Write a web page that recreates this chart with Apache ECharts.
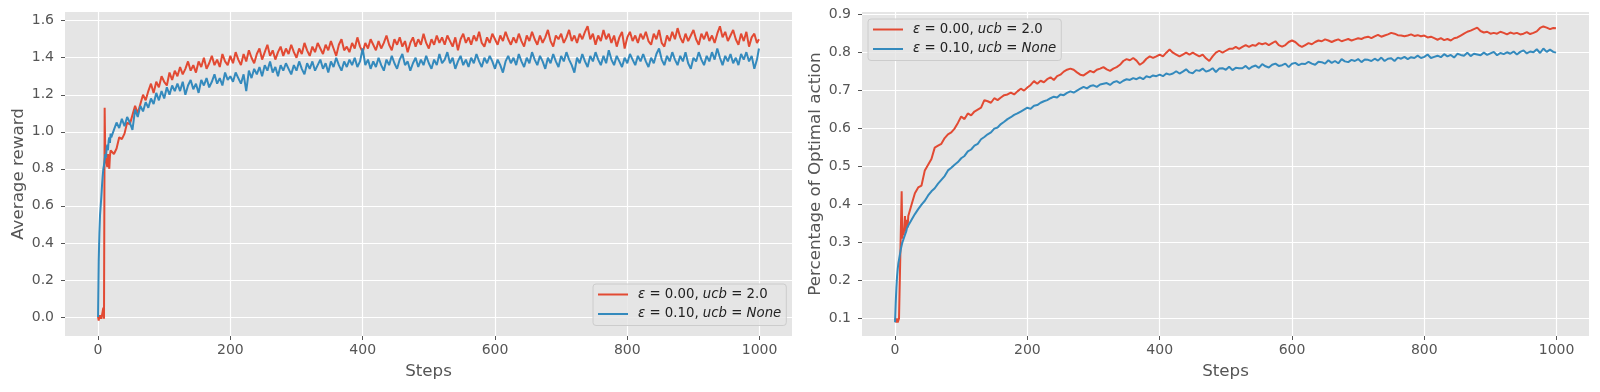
<!DOCTYPE html>
<html><head><meta charset="utf-8">
<script src="https://cdn.jsdelivr.net/npm/echarts@6/dist/echarts.min.js"></script>
<style>html,body{margin:0;padding:0;background:#fff}#c{width:1600px;height:392px}</style>
</head><body><div id="c"></div>
<script>
// ---- left panel: steps sampled every 4 after step 20 ----
const stepsReward = [
0,1,2,3,4,5,6,7,8,9,10,11,12,13,14,15,16,17,18,19,20,
24,28,32,36,40,44,48,52,56,60,64,68,72,76,80,84,88,92,96,100,104,108,112,116,120,
124,128,132,136,140,144,148,152,156,160,164,168,172,176,180,184,188,192,196,200,204,208,212,216,220,
224,228,232,236,240,244,248,252,256,260,264,268,272,276,280,284,288,292,296,300,304,308,312,316,320,
324,328,332,336,340,344,348,352,356,360,364,368,372,376,380,384,388,392,396,400,404,408,412,416,420,
424,428,432,436,440,444,448,452,456,460,464,468,472,476,480,484,488,492,496,500,504,508,512,516,520,
524,528,532,536,540,544,548,552,556,560,564,568,572,576,580,584,588,592,596,600,604,608,612,616,620,
624,628,632,636,640,644,648,652,656,660,664,668,672,676,680,684,688,692,696,700,704,708,712,716,720,
724,728,732,736,740,744,748,752,756,760,764,768,772,776,780,784,788,792,796,800,804,808,812,816,820,
824,828,832,836,840,844,848,852,856,860,864,868,872,876,880,884,888,892,896,900,904,908,912,916,920,
924,928,932,936,940,944,948,952,956,960,964,968,972,976,980,984,988,992,996,
999];

const rewardUcb = [
0.00,-0.02,0.01,-0.01,0.01,-0.01,-0.02,0.03,0.05,-0.01,1.13,0.84,0.86,0.83,0.81,0.88,0.85,0.80,0.87,0.90,0.89,
0.88,0.91,0.97,0.96,0.99,1.05,1.04,1.09,1.14,1.10,1.15,1.20,1.17,1.22,1.26,1.21,1.27,1.24,1.30,1.27,1.25,1.32,1.28,1.33,1.30,
1.35,1.31,1.34,1.38,1.33,1.36,1.32,1.38,1.35,1.40,1.34,1.37,1.41,1.36,1.39,1.35,1.42,1.38,1.36,1.41,1.37,1.43,1.39,1.36,1.42,
1.38,1.44,1.40,1.37,1.42,1.45,1.39,1.43,1.47,1.41,1.44,1.39,1.43,1.46,1.41,1.45,1.42,1.47,1.43,1.40,1.45,1.42,1.48,1.44,1.41,
1.46,1.43,1.48,1.45,1.42,1.47,1.44,1.49,1.45,1.41,1.47,1.50,1.44,1.46,1.43,1.48,1.45,1.51,1.46,1.43,1.48,1.45,1.50,1.47,1.44,
1.49,1.45,1.48,1.52,1.47,1.44,1.50,1.47,1.51,1.46,1.49,1.43,1.48,1.51,1.46,1.50,1.47,1.53,1.48,1.45,1.50,1.47,1.52,1.48,1.51,
1.47,1.52,1.49,1.46,1.51,1.44,1.50,1.53,1.48,1.51,1.47,1.52,1.49,1.54,1.48,1.46,1.51,1.48,1.53,1.50,1.47,1.52,1.49,1.54,1.50,
1.47,1.51,1.48,1.53,1.49,1.46,1.52,1.49,1.54,1.50,1.47,1.52,1.48,1.51,1.55,1.49,1.46,1.52,1.50,1.53,1.48,1.51,1.55,1.49,1.52,
1.48,1.53,1.50,1.54,1.57,1.50,1.53,1.47,1.52,1.49,1.55,1.50,1.53,1.48,1.52,1.46,1.51,1.54,1.45,1.51,1.54,1.49,1.52,1.48,1.53,
1.50,1.54,1.49,1.47,1.53,1.50,1.55,1.48,1.46,1.52,1.49,1.54,1.50,1.56,1.51,1.48,1.53,1.49,1.52,1.55,1.50,1.47,1.53,1.50,1.54,
1.49,1.52,1.48,1.53,1.57,1.51,1.54,1.49,1.52,1.55,1.50,1.47,1.53,1.49,1.54,1.46,1.51,1.53,1.48,
1.50];

const rewardEps = [
0.00,0.30,0.45,0.55,0.60,0.65,0.71,0.76,0.80,0.82,0.85,0.88,0.86,0.91,0.93,0.90,0.95,0.97,0.94,0.99,0.97,
1.01,1.05,1.02,1.07,1.03,1.08,1.05,1.01,1.12,1.08,1.14,1.11,1.16,1.13,1.18,1.15,1.21,1.17,1.22,1.18,1.24,1.20,1.25,1.22,1.26,
1.22,1.27,1.20,1.25,1.28,1.23,1.26,1.21,1.28,1.25,1.29,1.24,1.27,1.31,1.26,1.29,1.25,1.32,1.28,1.30,1.27,1.32,1.29,1.26,1.31,
1.22,1.33,1.29,1.34,1.31,1.35,1.30,1.36,1.33,1.38,1.32,1.35,1.30,1.36,1.33,1.37,1.34,1.31,1.36,1.33,1.38,1.34,1.31,1.37,1.34,
1.38,1.33,1.36,1.39,1.34,1.37,1.32,1.38,1.35,1.40,1.36,1.33,1.38,1.35,1.39,1.36,1.40,1.35,1.38,1.45,1.36,1.39,1.34,1.38,1.35,
1.40,1.36,1.33,1.39,1.36,1.41,1.37,1.34,1.39,1.42,1.36,1.38,1.33,1.37,1.40,1.35,1.39,1.36,1.41,1.37,1.34,1.39,1.36,1.42,1.37,
1.39,1.43,1.37,1.40,1.34,1.38,1.41,1.36,1.39,1.35,1.40,1.37,1.42,1.38,1.35,1.40,1.37,1.41,1.38,1.34,1.39,1.36,1.32,1.38,1.41,
1.37,1.40,1.36,1.42,1.38,1.35,1.40,1.37,1.43,1.39,1.36,1.41,1.38,1.34,1.40,1.37,1.42,1.38,1.35,1.41,1.38,1.43,1.39,1.36,1.32,
1.40,1.37,1.42,1.38,1.35,1.41,1.38,1.43,1.39,1.36,1.41,1.37,1.44,1.39,1.36,1.41,1.38,1.35,1.40,1.37,1.42,1.39,1.36,1.41,1.38,
1.42,1.38,1.35,1.40,1.37,1.42,1.45,1.39,1.36,1.41,1.38,1.43,1.39,1.36,1.41,1.38,1.43,1.37,1.34,1.40,1.38,1.43,1.39,1.36,1.41,
1.38,1.43,1.39,1.45,1.40,1.36,1.41,1.38,1.42,1.37,1.40,1.36,1.42,1.39,1.43,1.38,1.41,1.34,1.39,
1.45];

// ---- right panel: steps sampled every 5 after step 20 ----
const stepsOptimal = [
0,1,2,3,4,5,6,7,8,9,10,11,12,13,14,15,16,17,18,19,20,
25,30,35,40,45,50,55,60,65,70,75,80,85,90,95,100,105,110,115,120,
125,130,135,140,145,150,155,160,165,170,175,180,185,190,195,200,205,210,215,220,
225,230,235,240,245,250,255,260,265,270,275,280,285,290,295,300,305,310,315,320,
325,330,335,340,345,350,355,360,365,370,375,380,385,390,395,400,405,410,415,420,
425,430,435,440,445,450,455,460,465,470,475,480,485,490,495,500,505,510,515,520,
525,530,535,540,545,550,555,560,565,570,575,580,585,590,595,600,605,610,615,620,
625,630,635,640,645,650,655,660,665,670,675,680,685,690,695,700,705,710,715,720,
725,730,735,740,745,750,755,760,765,770,775,780,785,790,795,800,805,810,815,820,
825,830,835,840,845,850,855,860,865,870,875,880,885,890,895,900,905,910,915,920,
925,930,935,940,945,950,955,960,965,970,975,980,985,990,995,
999];

const optimalUcb = [
0.100,0.095,0.090,0.100,0.090,0.095,0.100,0.100,0.105,0.100,0.435,0.310,0.330,0.320,0.340,0.370,0.330,0.350,0.360,0.340,0.370,
0.400,0.430,0.445,0.450,0.490,0.505,0.520,0.550,0.555,0.560,0.575,0.585,0.590,0.600,0.615,0.632,0.625,0.640,0.635,0.645,
0.650,0.655,0.675,0.672,0.668,0.680,0.675,0.682,0.688,0.690,0.695,0.690,0.698,0.705,0.700,0.708,0.715,0.725,0.718,0.726,
0.722,0.730,0.735,0.728,0.738,0.742,0.750,0.755,0.758,0.755,0.748,0.742,0.740,0.746,0.752,0.748,0.755,0.758,0.762,0.756,
0.752,0.758,0.762,0.768,0.778,0.783,0.780,0.786,0.779,0.768,0.774,0.784,0.790,0.786,0.790,0.795,0.790,0.800,0.808,0.800,
0.795,0.790,0.795,0.800,0.795,0.800,0.795,0.790,0.795,0.785,0.778,0.790,0.800,0.805,0.800,0.805,0.810,0.810,0.815,0.810,
0.815,0.820,0.815,0.820,0.818,0.825,0.822,0.825,0.820,0.825,0.830,0.820,0.816,0.820,0.828,0.832,0.828,0.820,0.815,0.820,
0.825,0.822,0.828,0.832,0.830,0.835,0.832,0.828,0.832,0.835,0.830,0.833,0.836,0.832,0.835,0.838,0.836,0.840,0.842,0.838,
0.843,0.847,0.842,0.845,0.848,0.852,0.850,0.846,0.845,0.843,0.845,0.848,0.844,0.846,0.843,0.845,0.840,0.842,0.838,0.834,
0.838,0.833,0.836,0.832,0.838,0.840,0.845,0.850,0.855,0.858,0.862,0.866,0.857,0.853,0.855,0.850,0.852,0.850,0.855,0.852,
0.848,0.853,0.850,0.852,0.848,0.850,0.854,0.849,0.852,0.856,0.865,0.869,0.866,0.862,0.865,
0.864];

const optimalEps = [
0.090,0.140,0.180,0.210,0.230,0.245,0.255,0.265,0.275,0.285,0.290,0.300,0.305,0.310,0.315,0.320,0.325,0.330,0.338,0.340,0.345,
0.360,0.375,0.388,0.400,0.410,0.424,0.435,0.443,0.455,0.465,0.475,0.490,0.497,0.505,0.512,0.522,0.528,0.540,0.545,0.555,
0.560,0.572,0.578,0.585,0.590,0.600,0.603,0.612,0.618,0.625,0.630,0.636,0.640,0.645,0.650,0.655,0.652,0.660,0.662,0.668,
0.672,0.675,0.680,0.684,0.682,0.690,0.688,0.694,0.698,0.695,0.700,0.705,0.710,0.706,0.712,0.714,0.710,0.716,0.718,0.720,
0.715,0.722,0.725,0.720,0.726,0.730,0.728,0.733,0.730,0.735,0.730,0.738,0.735,0.740,0.738,0.742,0.738,0.745,0.742,0.745,
0.751,0.745,0.750,0.756,0.748,0.746,0.754,0.752,0.758,0.750,0.753,0.759,0.749,0.758,0.759,0.755,0.763,0.754,0.760,0.759,
0.759,0.765,0.757,0.763,0.766,0.760,0.770,0.764,0.761,0.768,0.771,0.765,0.767,0.771,0.762,0.771,0.773,0.767,0.771,0.770,
0.776,0.771,0.768,0.776,0.775,0.771,0.780,0.773,0.778,0.772,0.783,0.777,0.775,0.781,0.778,0.783,0.775,0.782,0.781,0.778,
0.784,0.779,0.787,0.778,0.784,0.785,0.778,0.787,0.784,0.789,0.783,0.788,0.786,0.792,0.786,0.789,0.795,0.786,0.789,0.792,
0.788,0.796,0.790,0.794,0.787,0.797,0.794,0.792,0.800,0.791,0.797,0.795,0.793,0.800,0.794,0.798,0.802,0.793,0.799,0.796,
0.801,0.797,0.803,0.795,0.802,0.806,0.798,0.803,0.801,0.809,0.799,0.811,0.802,0.808,0.802,
0.800];

const xTicks = [0,200,400,600,800,1000];
const rewardTicks = [0.0,0.2,0.4,0.6,0.8,1.0,1.2,1.4,1.6];
const optimalTicks = [0.1,0.2,0.3,0.4,0.5,0.6,0.7,0.8,0.9];
const seriesNames = ['ε = 0.00, ucb = 2.0', 'ε = 0.10, ucb = None'];
const legendRich = ['{p|}{i|ε} = 0.00, {i|ucb} = 2.0', '{p|}{i|ε} = 0.10, {i|ucb} = {i|None}'];
const yNames = ['Average reward', 'Percentage of Optimal action'];

const F = 'DejaVu Sans';
const RED = '#E24A33', BLUE = '#348ABD';

function xAxisCfg(g) {
  return {
    type:'value', gridIndex:g, min:-49.95, max:1048.95,
    name:'Steps', nameLocation:'middle', nameGap:27,
    nameTextStyle:{color:'#555555', fontSize:16.7, fontFamily:F},
    axisLine:{show:false, onZero:false},
    axisTick:{show:true, customValues:xTicks, length:4, lineStyle:{color:'#555555', width:1}},
    axisLabel:{customValues:xTicks, color:'#555555', fontSize:14, margin:7, fontFamily:F,
      formatter:v => String(Math.round(v))},
    splitLine:{show:true, lineStyle:{color:'#ffffff', width:1.2}}
  };
}
function yAxisCfg(g, min, max, ticks, name) {
  return {
    type:'value', gridIndex:g, min:min, max:max,
    name:name, nameLocation:'middle', nameGap:38, nameRotate:90,
    nameTextStyle:{color:'#555555', fontSize:16.7, fontFamily:F},
    axisLine:{show:false, onZero:false},
    axisTick:{show:true, customValues:ticks, length:4, lineStyle:{color:'#555555', width:1}},
    axisLabel:{customValues:ticks, color:'#555555', fontSize:14, margin:11, fontFamily:F,
      formatter:v => v.toFixed(1)},
    splitLine:{show:true, lineStyle:{color:'#ffffff', width:1.2}}
  };
}
function legendCfg(left, top) {
  return {
    left:left, top:top, orient:'vertical', data:seriesNames,
    icon:'path://M0,0H30V2H0Z',
    itemWidth:30, itemHeight:14, itemGap:6.5, padding:[4,5,5,5],
    backgroundColor:'rgba(229,229,229,0.8)', borderColor:'#cccccc', borderWidth:1, borderRadius:3,
    formatter:n => legendRich[seriesNames.indexOf(n)],
    textStyle:{fontSize:13.3, fontFamily:F, color:'#222222',
      rich:{i:{fontStyle:'italic', fontSize:13.3, fontFamily:F, color:'#222222'}, p:{width:5}}}
  };
}
function line(name, color, g, xs, vals){
  return {type:'line', name:name, xAxisIndex:g, yAxisIndex:g,
    data:xs.map((s,i)=>[s, vals[i]]),
    symbol:'none', showSymbol:false, lineStyle:{color:color, width:2}, itemStyle:{color:color}};
}

const chart = echarts.init(document.getElementById('c'), null, {renderer:'canvas'});
chart.setOption({
  animation:false,
  backgroundColor:'#ffffff',
  grid:[
    {left:65, right:808, top:12, bottom:56, show:true, backgroundColor:'#E5E5E5', borderWidth:0},
    {left:862, right:11, top:12, bottom:56, show:true, backgroundColor:'#E5E5E5', borderWidth:0}
  ],
  xAxis:[xAxisCfg(0), xAxisCfg(1)],
  yAxis:[
    yAxisCfg(0, -0.103, 1.647, rewardTicks, yNames[0]),
    yAxisCfg(1, 0.054, 0.907, optimalTicks, yNames[1])
  ],
  legend:[legendCfg(593, 284), legendCfg(868, 19)],
  series:[
    line(seriesNames[0], RED, 0, stepsReward, rewardUcb),
    line(seriesNames[1], BLUE, 0, stepsReward, rewardEps),
    line(seriesNames[0], RED, 1, stepsOptimal, optimalUcb),
    line(seriesNames[1], BLUE, 1, stepsOptimal, optimalEps)
  ]
});
</script></body></html>
